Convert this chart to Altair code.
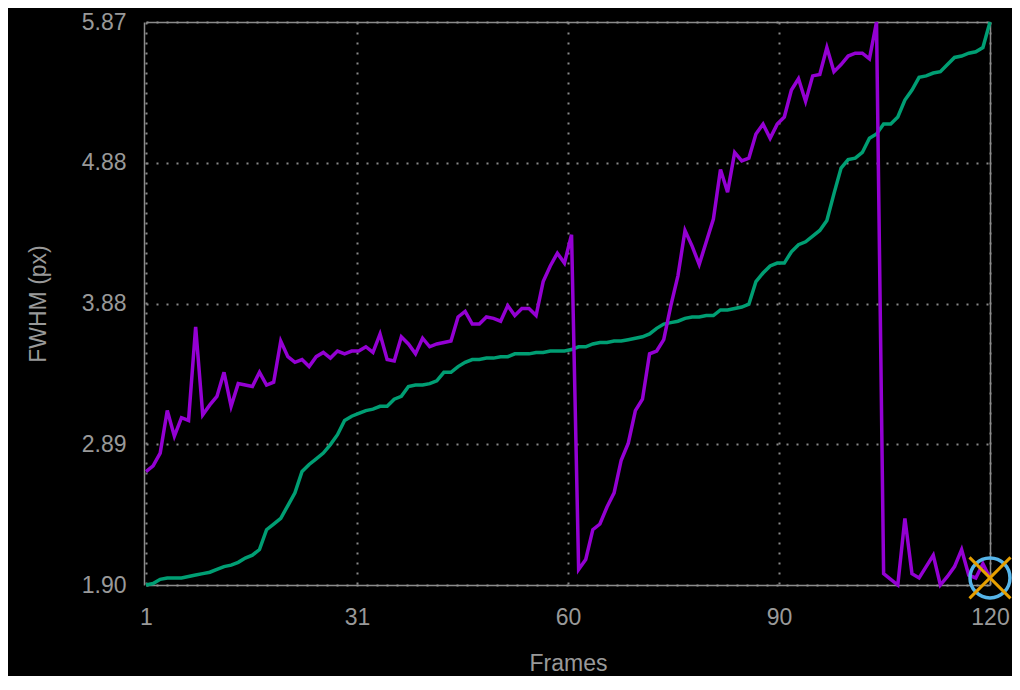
import altair as alt
import pandas as pd

frames = list(range(1, 121))

fwhm_values = [
    2.70, 2.74, 2.83, 3.13, 2.95, 3.08, 3.06, 3.72, 3.10, 3.17,
    3.23, 3.40, 3.16, 3.32, 3.31, 3.30, 3.40, 3.31, 3.33, 3.62,
    3.51, 3.47, 3.49, 3.44, 3.51, 3.54, 3.50, 3.55, 3.53, 3.55,
    3.55, 3.58, 3.54, 3.67, 3.49, 3.48, 3.65, 3.60, 3.53, 3.64,
    3.58, 3.60, 3.61, 3.62, 3.79, 3.83, 3.74, 3.74, 3.79, 3.78,
    3.76, 3.87, 3.80, 3.85, 3.85, 3.80, 4.04, 4.15, 4.24, 4.17,
    4.37, 2.01, 2.08, 2.29, 2.33, 2.45, 2.55, 2.78, 2.90, 3.13,
    3.21, 3.53, 3.55, 3.63, 3.87, 4.08, 4.40, 4.29, 4.16, 4.32,
    4.48, 4.83, 4.67, 4.95, 4.89, 4.91, 5.08, 5.15, 5.05, 5.15,
    5.20, 5.39, 5.47, 5.31, 5.49, 5.50, 5.69, 5.52, 5.57, 5.63,
    5.65, 5.65, 5.61, 5.87, 1.98, 1.94, 1.90, 2.37, 1.98, 1.95,
    2.03, 2.11, 1.90, 1.96, 2.03, 2.15, 1.97, 1.95, 2.05, 1.95,
]

sorted_values = [
    1.90, 1.91, 1.94, 1.95, 1.95, 1.95, 1.96, 1.97, 1.98, 1.99,
    2.01, 2.03, 2.04, 2.06, 2.09, 2.11, 2.15, 2.29, 2.33, 2.37,
    2.46, 2.55, 2.70, 2.75, 2.79, 2.83, 2.89, 2.96, 3.06, 3.09,
    3.11, 3.13, 3.14, 3.16, 3.16, 3.21, 3.23, 3.30, 3.31, 3.31,
    3.32, 3.34, 3.40, 3.40, 3.44, 3.47, 3.49, 3.49, 3.50, 3.50,
    3.51, 3.51, 3.53, 3.53, 3.53, 3.54, 3.54, 3.55, 3.55, 3.55,
    3.56, 3.58, 3.58, 3.60, 3.61, 3.61, 3.62, 3.62, 3.63, 3.64,
    3.65, 3.67, 3.71, 3.74, 3.75, 3.76, 3.78, 3.79, 3.79, 3.80,
    3.80, 3.84, 3.84, 3.85, 3.86, 3.88, 4.04, 4.10, 4.15, 4.17,
    4.17, 4.25, 4.30, 4.32, 4.36, 4.40, 4.47, 4.66, 4.84, 4.90,
    4.91, 4.95, 5.05, 5.08, 5.15, 5.15, 5.20, 5.32, 5.39, 5.48,
    5.49, 5.51, 5.52, 5.57, 5.62, 5.63, 5.65, 5.66, 5.69, 5.87,
]

marker_frame = [120]
marker_value = [1.95]

x_tick_values = [1, 30.75, 60.5, 90.25, 120]
x_tick_labels = ["1", "31", "60", "90", "120"]
y_tick_values = [1.90, 2.8925, 3.885, 4.8775, 5.87]
y_tick_labels = ["1.90", "2.89", "3.88", "4.88", "5.87"]

series_names = ["FWHM", "FWHM (sorted)"]
series_colors = ["#9400D3", "#009E73"]

df = pd.concat([
    pd.DataFrame({"frame": frames, "value": fwhm_values, "series": series_names[0]}),
    pd.DataFrame({"frame": frames, "value": sorted_values, "series": series_names[1]}),
])
marker_df = pd.DataFrame({"frame": marker_frame, "value": marker_value})

FONT = "Liberation Sans"
TXT = "#999999"
LINE = "#8c8c8c"

x_scale = alt.Scale(domain=[1, 120], nice=False, zero=False)
y_scale = alt.Scale(domain=[1.90, 5.87], nice=False, zero=False)


def label_expr(values, labels):
    vals = "[" + ",".join(repr(v) for v in values) + "]"
    labs = "[" + ",".join("'" + s + "'" for s in labels) + "]"
    return f"{labs}[indexof({vals}, datum.value)]"


x_enc = alt.X(
    "frame:Q", scale=x_scale,
    axis=alt.Axis(
        title="Frames", values=x_tick_values, labelExpr=label_expr(x_tick_values, x_tick_labels),
        grid=True, gridDash=[2, 8], gridColor="#888888", gridWidth=2,
        domain=True, domainColor=LINE, domainWidth=1.5,
        ticks=False, tickSize=0, labelPadding=21,
        labelFlush=False, labelOverlap=False,
        titleY=78, titleBaseline="middle",
    ),
)
y_enc = alt.Y(
    "value:Q", scale=y_scale,
    axis=alt.Axis(
        title="FWHM (px)", values=y_tick_values, labelExpr=label_expr(y_tick_values, y_tick_labels),
        grid=True, gridDash=[2, 8], gridColor="#888888", gridWidth=2,
        domain=True, domainColor=LINE, domainWidth=1.5, offset=2,
        ticks=False, tickSize=0, labelPadding=18,
        labelFlush=False, labelOverlap=False,
        titleX=-94, titleBaseline="bottom",
    ),
)

x_plain = alt.X("frame:Q", scale=x_scale, axis=None)
y_plain = alt.Y("value:Q", scale=y_scale, axis=None)

color_enc = alt.Color(
    "series:N",
    scale=alt.Scale(domain=series_names, range=series_colors),
    legend=None,
)

# invisible layer that carries the top and right frame lines
frame_layer = alt.Chart(df).mark_line(opacity=0).encode(
    x=alt.X("frame:Q", scale=x_scale, axis=alt.Axis(
        orient="top", title=None, labels=False, ticks=False, grid=False,
        domain=True, domainColor=LINE, domainWidth=1.5)),
    y=alt.Y("value:Q", scale=y_scale, axis=alt.Axis(
        orient="right", title=None, labels=False, ticks=False, grid=False,
        domain=True, domainColor=LINE, domainWidth=1.5)),
    detail="series:N",
)

main_axes = alt.Chart(df).mark_line(opacity=0).encode(
    x=x_enc, y=y_enc, detail="series:N"
)

green = alt.Chart(df[df["series"] == series_names[1]]).mark_line(strokeWidth=3.5).encode(
    x=x_plain, y=y_plain, color=color_enc
)
purple = alt.Chart(df[df["series"] == series_names[0]]).mark_line(strokeWidth=3.5).encode(
    x=x_plain, y=y_plain, color=color_enc
)

circle = alt.Chart(marker_df).mark_point(
    shape="circle", size=1600, filled=False, stroke="#56B4E9", strokeWidth=3.5, opacity=1
).encode(x=x_plain, y=y_plain)

cross = alt.Chart(marker_df).mark_point(
    shape="M-1,-1L1,1M-1,1L1,-1", size=1681, filled=False, stroke="#E69F00", strokeWidth=3, opacity=1
).encode(x=x_plain, y=y_plain)

chart = alt.layer(main_axes, frame_layer, green, purple, circle, cross).resolve_axis(
    x="independent", y="independent"
).properties(
    width=844, height=563,
    padding={"left": 138, "top": 14, "right": 22, "bottom": 91},
    autosize=alt.AutoSizeParams(type="none"),
    background="black",
).configure_view(
    stroke=None,
).configure_axis(
    labelFont=FONT, titleFont=FONT, labelFontSize=23, titleFontSize=23,
    labelColor=TXT, titleColor=TXT, titleFontWeight="normal",
)

chart.save("out.html", embed_options={"renderer": "svg", "actions": False})
